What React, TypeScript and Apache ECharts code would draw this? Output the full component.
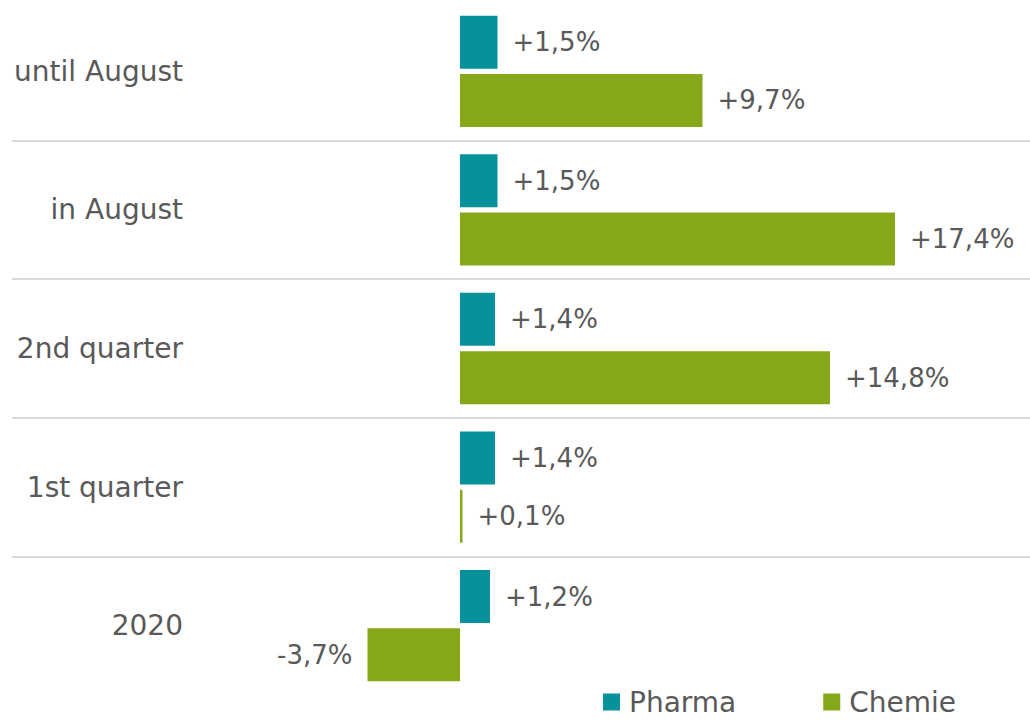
import React, { useEffect, useRef } from "react";
import * as echarts from "echarts";

const categories = ["until August", "in August", "2nd quarter", "1st quarter", "2020"];
const pharma = [1.5, 1.5, 1.4, 1.4, 1.2];
const chemie = [9.7, 17.4, 14.8, 0.1, -3.7];
const seriesNames = ["Pharma", "Chemie"];
const colors = ["#07919a", "#84a817"];

const FONT = "DejaVu Sans, Liberation Sans, Arial, sans-serif";
const TEXT = "#595959";

function fmt(v: number) {
  const s = v.toFixed(1).replace(".", ",");
  return (v > 0 ? "+" : "") + s + "%";
}

function makeData(values: number[]) {
  return values.map((v) => ({
    value: v,
    label: { position: v < 0 ? "left" : "right" },
  }));
}

export default function App() {
  const ref = useRef<HTMLDivElement>(null);
  useEffect(() => {
    if (!ref.current) return;
    const chart = echarts.init(ref.current, undefined, { renderer: "svg" });
    const seriesVals = [pharma, chemie];
    chart.setOption({
      animation: false,
      textStyle: { fontFamily: FONT },
      grid: { left: 12, right: 0, top: 2, bottom: 28, containLabel: false },
      xAxis: {
        type: "value",
        min: -17.92,
        max: 22.8,
        show: false,
        splitLine: { show: false },
      },
      yAxis: {
        type: "category",
        data: categories,
        inverse: true,
        position: "left",
        axisLine: { show: false, onZero: false },
        axisTick: { show: false },
        axisLabel: {
          inside: true,
          align: "right",
          margin: 171,
          color: TEXT,
          fontSize: 28,
          fontFamily: FONT,
        },
        splitLine: {
          show: true,
          showMinLine: false,
          showMaxLine: false,
          lineStyle: { color: "#d9d9d9", width: 2 },
        },
      },
      legend: {
        left: 603,
        top: 687,
        padding: 0,
        itemWidth: 17,
        itemHeight: 17,
        itemGap: 87,
        icon: "rect",
        textStyle: {
          color: TEXT,
          fontSize: 28,
          lineHeight: 30,
          fontFamily: FONT,
          padding: [0, 0, 0, 4],
        },
        data: seriesNames,
      },
      series: seriesNames.map((name, i) => ({
        name,
        type: "bar",
        data: makeData(seriesVals[i]),
        barWidth: 53,
        barGap: "10%",
        itemStyle: { color: colors[i] },
        label: {
          show: true,
          distance: 15,
          color: TEXT,
          fontSize: 26,
          fontFamily: FONT,
          formatter: (p: any) => fmt(p.value),
        },
      })),
    });
    return () => chart.dispose();
  }, []);
  return (
    <div
      ref={ref}
      style={{ position: "absolute", left: 0, top: 0, width: 1030, height: 723 }}
    />
  );
}
